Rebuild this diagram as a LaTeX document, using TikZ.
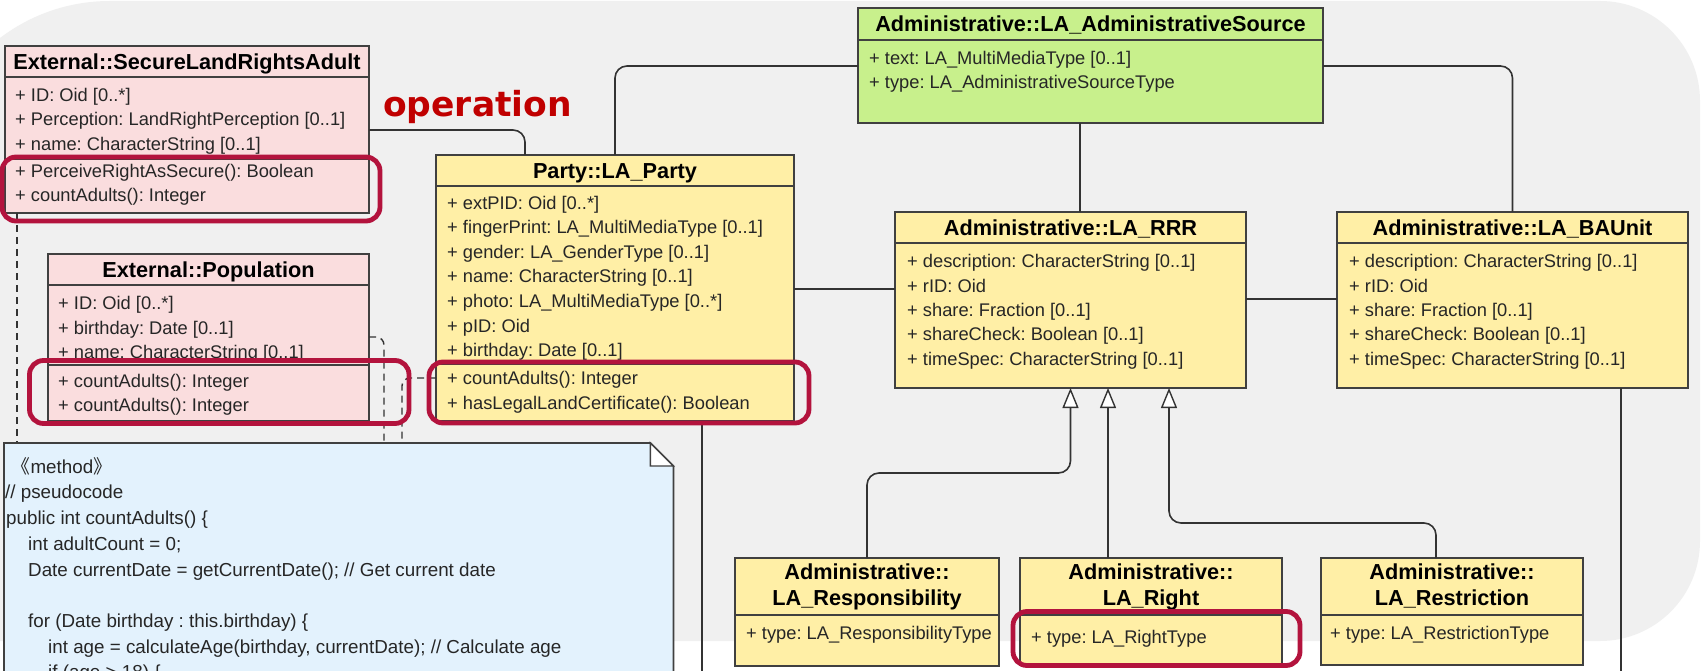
\documentclass[tikz,border=0pt]{standalone}
\usepackage{fontspec}
\setmainfont{Liberation Sans}
\newfontfamily\labelfont{DejaVu Sans}
\newfontfamily\cjkfont{Noto Sans CJK SC}
\usetikzlibrary{arrows.meta}
\frenchspacing

\definecolor{canvasgrey}{HTML}{F0F0F0}
\definecolor{extpink}{HTML}{FADDDE}
\definecolor{clsyellow}{HTML}{FFEFA6}
\definecolor{srcgreen}{HTML}{C8F08C}
\definecolor{noteblue}{HTML}{E3F2FD}
\definecolor{edge}{HTML}{404040}
\definecolor{wire}{HTML}{333333}
\definecolor{hilite}{HTML}{B3133D}
\definecolor{oplabel}{HTML}{C00000}

\newcommand\attrsize{\fontsize{18.3pt}{22pt}\selectfont}
\newcommand\hdrsize{\fontsize{21.7pt}{26pt}\selectfont\bfseries}
\newcommand\codesize{\fontsize{18.8pt}{24pt}\selectfont}

\begin{document}
\begin{tikzpicture}[x=1pt,y=-1pt,
  compart/.style={draw=edge, line width=1.8pt, anchor=north west, inner sep=0pt, outer sep=0pt},
  hdr/.style={font=\hdrsize, text=black, anchor=base, inner sep=0pt},
  attr/.style={font=\attrsize, text=black!85, anchor=base west, inner sep=0pt},
  code/.style={font=\codesize, text=black!85, anchor=base west, inner sep=0pt},
  assoc/.style={draw=wire, line width=1.6pt, rounded corners=12pt},
  gen/.style={assoc, -{Triangle[length=20pt, width=16pt, fill=white, line width=1.4pt]}},
  dep/.style={draw=wire, line width=1.4pt, dash pattern=on 7pt off 5pt, rounded corners=8pt},
  marker/.style={draw=hilite, line width=4.8pt, rounded corners=14pt}
]
\useasboundingbox (0,0) rectangle (1703,671);
\clip (0,0) rectangle (1703,671);
\fill[white] (0,0) rectangle (1703,671);

% grey canvas with rounded corners
\fill[canvasgrey] (-72,641) -- (-72,183) .. controls (-72,82.5) and (9.5,1) .. (110,1)
  -- (1600,1) .. controls (1655.2,1) and (1700,45.8) .. (1700,101)
  -- (1700,541) .. controls (1700,596.2) and (1655.2,641) .. (1600,641) -- cycle;

% ---------- class compartments ----------
% External::SecureLandRightsAdult
\node[compart, fill=extpink, minimum width=364pt, minimum height=31pt] (slra-h) at (5,46) {};
\node[compart, fill=extpink, minimum width=364pt, minimum height=82pt] (slra-a) at (5,77) {};
\node[compart, fill=extpink, minimum width=364pt, minimum height=54pt] (slra-m) at (5,159) {};

% External::Population
\node[compart, fill=extpink, minimum width=321pt, minimum height=31pt] (pop-h) at (48,254) {};
\node[compart, fill=extpink, minimum width=321pt, minimum height=80pt] (pop-a) at (48,285) {};

% Party::LA_Party
\node[compart, fill=clsyellow, minimum width=358pt, minimum height=31pt] (party-h) at (436,155) {};
\node[compart, fill=clsyellow, minimum width=358pt, minimum height=178pt] (party-a) at (436,186) {};

% Administrative::LA_AdministrativeSource
\node[compart, fill=srcgreen, minimum width=465pt, minimum height=32pt] (src-h) at (858,8) {};
\node[compart, fill=srcgreen, minimum width=465pt, minimum height=83pt] (src-a) at (858,40) {};

% Administrative::LA_RRR
\node[compart, fill=clsyellow, minimum width=351pt, minimum height=31pt] (rrr-h) at (895,212) {};
\node[compart, fill=clsyellow, minimum width=351pt, minimum height=145pt] (rrr-a) at (895,243) {};

% Administrative::LA_BAUnit
\node[compart, fill=clsyellow, minimum width=351pt, minimum height=31pt] (bau-h) at (1337,212) {};
\node[compart, fill=clsyellow, minimum width=351pt, minimum height=145pt] (bau-a) at (1337,243) {};

% specialisations of LA_RRR
\node[compart, fill=clsyellow, minimum width=264pt, minimum height=57pt] (resp-h) at (735,558) {};
\node[compart, fill=clsyellow, minimum width=264pt, minimum height=51pt] (resp-a) at (735,615) {};
\node[compart, fill=clsyellow, minimum width=262pt, minimum height=57pt] (right-h) at (1020,558) {};
\node[compart, fill=clsyellow, minimum width=262pt, minimum height=50pt] (right-a) at (1020,615) {};
\node[compart, fill=clsyellow, minimum width=262pt, minimum height=57pt] (restr-h) at (1321,558) {};
\node[compart, fill=clsyellow, minimum width=262pt, minimum height=50pt] (restr-a) at (1321,615) {};

% attribute texts that run under the operation compartments
\node[attr] (pop-a1) at (58,309.5) {+ ID: Oid [0..*]};
\node[attr] (pop-a2) at (58,334) {+ birthday: Date [0..1]};
\node[attr] (pop-a3) at (58,358.5) {+ name: CharacterString [0..1]};
\node[attr] (party-a1) at (447,209.5) {+ extPID: Oid [0..*]};
\node[attr] (party-a2) at (447,234) {+ fingerPrint: LA\_MultiMediaType [0..1]};
\node[attr] (party-a3) at (447,258.5) {+ gender: LA\_GenderType [0..1]};
\node[attr] (party-a4) at (447,283) {+ name: CharacterString [0..1]};
\node[attr] (party-a5) at (447,307.5) {+ photo: LA\_MultiMediaType [0..*]};
\node[attr] (party-a6) at (447,332) {+ pID: Oid};
\node[attr] (party-a7) at (447,356.5) {+ birthday: Date [0..1]};

% operation compartments
\node[compart, fill=extpink, minimum width=321pt, minimum height=56pt] (pop-m) at (48,365) {};
\node[compart, fill=clsyellow, minimum width=358pt, minimum height=57pt] (party-m) at (436,364) {};

% ---------- connectors ----------
\draw[assoc] ([yshift=-12pt]slra-a.east) -| ([xshift=-90pt]party-h.north);
\draw[assoc] (party-h.north) |- ([yshift=15.5pt]src-a.west);
\draw[assoc] ([yshift=15.5pt]src-a.east) -| (bau-h.north);
\draw[assoc] ([xshift=9.5pt]rrr-h.north) -- ([xshift=9.5pt]rrr-h.north |- src-a.south);
\draw[assoc] ([yshift=-14pt]party-a.east) -- ([yshift=-14pt]party-a.east -| rrr-a.west);
\draw[assoc] ([yshift=16.5pt]rrr-a.east) -- ([yshift=16.5pt]rrr-a.east -| bau-a.west);
\draw[assoc] ([xshift=87pt]party-m.south) -- ++(0,260);
\draw[assoc] ([xshift=108.5pt]bau-a.south) -- ++(0,300);

\draw[gen] (resp-h.north) -- ++(0,-85) -| (rrr-a.south);
\draw[gen] ([xshift=37.5pt]rrr-a.south |- right-h.north) -- ([xshift=37.5pt]rrr-a.south);
\draw[gen] ([xshift=-16pt]restr-h.north) -- ++(0,-35) -| ([xshift=98.5pt]rrr-a.south);

% note with folded corner
\node[anchor=north west, minimum width=669pt, minimum height=260pt, inner sep=0pt] (note) at (4,443) {};
\draw[dep] ([xshift=12pt]slra-m.south west) -- ([xshift=12pt]slra-m.south west |- note.north);
\draw[dep] ([yshift=-12pt]pop-a.east) -| ([xshift=380pt]note.north west);
\draw[dep] ([yshift=14.5pt]party-m.west) -| ([xshift=398pt]note.north west);
\draw[draw=edge, line width=1.8pt, fill=noteblue] (note.north west) -- ([xshift=-23pt]note.north east)
  -- ([yshift=-23pt]note.north east) -- (note.south east) -- (note.south west) -- cycle;
\draw[draw=edge, line width=1.4pt, fill=white] ([xshift=-23pt]note.north east) -- ([xshift=-23pt,yshift=-23pt]note.north east)
  -- ([yshift=-23pt]note.north east) -- cycle;

% ---------- texts ----------
\node[hdr] (slra-t) at ([yshift=-7.7pt]slra-h.center) {External::SecureLandRightsAdult};
\node[attr] (slra-a1) at (15,101.5) {+ ID: Oid [0..*]};
\node[attr] (slra-a2) at (15,126) {+ Perception: LandRightPerception [0..1]};
\node[attr] (slra-a3) at (15,150.5) {+ name: CharacterString [0..1]};
\node[attr] (slra-m1) at (15,177.5) {+ PerceiveRightAsSecure(): Boolean};
\node[attr] (slra-m2) at (15,202) {+ countAdults(): Integer};

\node[hdr] (pop-t) at ([yshift=-7.7pt]pop-h.center) {External::Population};
\node[attr] (pop-m1) at (58,387.5) {+ countAdults(): Integer};
\node[attr] (pop-m2) at (58,411) {+ countAdults(): Integer};

\node[hdr] (party-t) at ([yshift=-7.7pt]party-h.center) {Party::LA\_Party};
\node[attr] (party-m1) at (447,384.5) {+ countAdults(): Integer};
\node[attr] (party-m2) at (447,409) {+ hasLegalLandCertificate(): Boolean};

\node[hdr] (src-t) at ([yshift=-7.7pt]src-h.center) {Administrative::LA\_AdministrativeSource};
\node[attr] (src-a1) at (869,64.5) {+ text: LA\_MultiMediaType [0..1]};
\node[attr] (src-a2) at (869,88.5) {+ type: LA\_AdministrativeSourceType};

\node[hdr] (rrr-t) at ([yshift=-7.7pt]rrr-h.center) {Administrative::LA\_RRR};
\node[attr] (rrr-a1) at (907,267.5) {+ description: CharacterString [0..1]};
\node[attr] (rrr-a2) at (907,292) {+ rID: Oid};
\node[attr] (rrr-a3) at (907,316) {+ share: Fraction [0..1]};
\node[attr] (rrr-a4) at (907,340.5) {+ shareCheck: Boolean [0..1]};
\node[attr] (rrr-a5) at (907,365) {+ timeSpec: CharacterString [0..1]};

\node[hdr] (bau-t) at ([yshift=-7.7pt]bau-h.center) {Administrative::LA\_BAUnit};
\node[attr] (bau-a1) at (1349,267.5) {+ description: CharacterString [0..1]};
\node[attr] (bau-a2) at (1349,292) {+ rID: Oid};
\node[attr] (bau-a3) at (1349,316) {+ share: Fraction [0..1]};
\node[attr] (bau-a4) at (1349,340.5) {+ shareCheck: Boolean [0..1]};
\node[attr] (bau-a5) at (1349,365) {+ timeSpec: CharacterString [0..1]};

\node[hdr] (resp-t1) at ([yshift=6.8pt]resp-h.center) {Administrative::};
\node[hdr] (resp-t2) at ([yshift=-19.2pt]resp-h.center) {LA\_Responsibility};
\node[attr] (resp-a1) at (746,639.5) {+ type: LA\_ResponsibilityType};
\node[hdr] (right-t1) at ([yshift=6.8pt]right-h.center) {Administrative::};
\node[hdr] (right-t2) at ([yshift=-19.2pt]right-h.center) {LA\_Right};
\node[attr] (right-a1) at (1031,643.5) {+ type: LA\_RightType};
\node[hdr] (restr-t1) at ([yshift=6.8pt]restr-h.center) {Administrative::};
\node[hdr] (restr-t2) at ([yshift=-19.2pt]restr-h.center) {LA\_Restriction};
\node[attr] (restr-a1) at (1330,639.5) {+ type: LA\_RestrictionType};

% pseudocode in the note
\node[code] (n1) at (20,473) {{\cjkfont\kern-0.45em《}method{\cjkfont 》}};
\node[code] (n2) at (5,498.5) {// pseudocode};
\node[code] (n3) at (6,524) {public int countAdults() \{};
\node[code] (n4) at (28,550) {int adultCount = 0;};
\node[code] (n5) at (28,576) {Date currentDate = getCurrentDate(); // Get current date};
\node[code] (n6) at (28,627) {for (Date birthday : this.birthday) \{};
\node[code] (n7) at (48,653) {int age = calculateAge(birthday, currentDate); // Calculate age};
\node[code] (n8) at (48,678) {if (age > 18) \{};

% ---------- highlight frames and label ----------
\draw[marker] (2,157) rectangle (380,221);
\draw[marker] (29.5,360.5) rectangle (409,423.5);
\draw[marker] (429,362) rectangle (809,423);
\draw[marker] (1013,611.5) rectangle (1300,665.5);
\node[anchor=base west, inner sep=0pt, text=oplabel, font=\labelfont\bfseries\fontsize{34.5pt}{40pt}\selectfont] (op) at (383,117) {operation};
\end{tikzpicture}
\end{document}
